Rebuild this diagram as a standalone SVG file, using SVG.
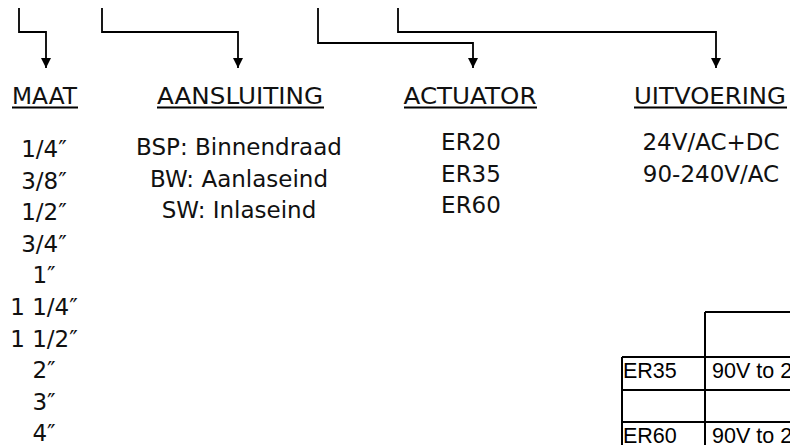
<svg xmlns="http://www.w3.org/2000/svg" width="790" height="445" viewBox="0 0 790 445">
<defs>
<marker id="arr" markerUnits="userSpaceOnUse" markerWidth="10" markerHeight="11" refX="10" refY="5" orient="auto" viewBox="0 0 10 10">
<path d="M0,0 L10,5 L0,10 z" fill="#000"/>
</marker>
<style>
.t{font-family:"DejaVu Sans","Liberation Sans",sans-serif;font-size:23px;fill:#111;text-anchor:middle}
.h{font-family:"DejaVu Sans","Liberation Sans",sans-serif;font-size:22.5px;fill:#111;text-anchor:middle}
.u{stroke:#000;stroke-width:2}
.c{fill:none;stroke:#000;stroke-width:1.8}
.tb{fill:none;stroke:#000;stroke-width:2}
.tt{font-family:"Liberation Sans",Arial,sans-serif;font-size:21.5px;fill:#000}
</style>
</defs>
<rect width="790" height="445" fill="#fff"/>
<g id="connectors">
<path class="c" d="M19,8 V32 H46 V68" marker-end="url(#arr)"/>
<path class="c" d="M102,8 V32 H238 V68" marker-end="url(#arr)"/>
<path class="c" d="M318,8 V43 H473 V68" marker-end="url(#arr)"/>
<path class="c" d="M398,8 V32 H716 V68" marker-end="url(#arr)"/>
</g>
<g id="maat">
<text class="h" x="44.5" y="104" textLength="65" lengthAdjust="spacingAndGlyphs">MAAT</text>
<line class="u" x1="12" y1="107.5" x2="78" y2="107.5"/>
<text class="t" x="44" y="157">1/4″</text>
<text class="t" x="44" y="188.6">3/8″</text>
<text class="t" x="44" y="220.2">1/2″</text>
<text class="t" x="44" y="251.8">3/4″</text>
<text class="t" x="44" y="283.4">1″</text>
<text class="t" x="44" y="315">1 1/4″</text>
<text class="t" x="44" y="346.6">1 1/2″</text>
<text class="t" x="44" y="378.2">2″</text>
<text class="t" x="44" y="409.8">3″</text>
<text class="t" x="44" y="441.4">4″</text>
</g>
<g id="aansluiting">
<text class="h" x="240" y="104" textLength="166" lengthAdjust="spacingAndGlyphs">AANSLUITING</text>
<line class="u" x1="157" y1="107.5" x2="324" y2="107.5"/>
<text class="t" x="239" y="155">BSP: Binnendraad</text>
<text class="t" x="239" y="186.6">BW: Aanlaseind</text>
<text class="t" x="239" y="218.2">SW: Inlaseind</text>
</g>
<g id="actuator">
<text class="h" x="470" y="104" textLength="133" lengthAdjust="spacingAndGlyphs">ACTUATOR</text>
<line class="u" x1="404" y1="107.5" x2="537" y2="107.5"/>
<text class="t" x="471" y="150">ER20</text>
<text class="t" x="471" y="181.6">ER35</text>
<text class="t" x="471" y="213.2">ER60</text>
</g>
<g id="uitvoering">
<text class="h" x="710" y="104" textLength="152" lengthAdjust="spacingAndGlyphs">UITVOERING</text>
<line class="u" x1="634" y1="107.5" x2="787" y2="107.5"/>
<text class="t" x="711" y="150">24V/AC+DC</text>
<text class="t" x="711" y="181.6">90-240V/AC</text>
</g>
<g id="table">
<path class="tb" d="M705,312 H792 M622,357 H792 M622,390 H792 M622,422 H792 M705,312 V446 M622,357 V446"/>
<text class="tt" x="623" y="378">ER35</text>
<text class="tt" x="712" y="378">90V to 2</text>
<text class="tt" x="623" y="443">ER60</text>
<text class="tt" x="712" y="443">90V to 2</text>
</g>
</svg>
